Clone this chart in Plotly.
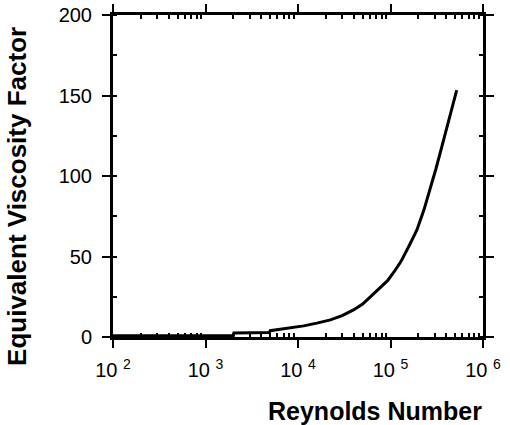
import plotly.graph_objects as go

# Data
reynolds = [100, 2000, 2030, 4900, 5000, 8000, 11500, 16000, 22400, 30000,
            39800, 50000, 60300, 75000, 93000, 110000, 130000, 160000,
            193000, 230000, 268000, 310000, 359000, 430000, 520000]
viscosity_factor = [0.8, 0.8, 2.5, 2.8, 3.9, 5.4, 6.9, 8.6, 10.6, 13.3,
                    16.8, 20.5, 25.0, 30.0, 35.0, 40.7, 47.0, 57.0,
                    66.5, 79.0, 91.3, 104.5, 118.2, 135.0, 153.4]

decades = [2, 3, 4, 5, 6]
x_tick_text = ["10 <sup>2</sup>", "10 <sup>3</sup>", "10 <sup>4</sup>",
               "10 <sup>5</sup>", "10 <sup>6</sup>"]
y_tick_vals = [0, 50, 100, 150, 200]

x_title = "Reynolds Number"
y_title = "Equivalent Viscosity Factor"

x_tick_vals = [10 ** d for d in decades]
x_minor_vals = [m * 10 ** d for d in decades[:-1] for m in range(2, 10)]

FONT = "Liberation Sans, Arial, sans-serif"

fig = go.Figure()
fig.add_trace(go.Scatter(
    x=reynolds, y=viscosity_factor, mode="lines",
    line=dict(color="black", width=3), showlegend=False,
))

fig.update_layout(
    width=510, height=425,
    margin=dict(l=113, r=27, t=15, b=88, autoexpand=False),
    paper_bgcolor="white", plot_bgcolor="white",
    font=dict(family=FONT, color="black", size=20),
)

fig.update_xaxes(
    type="log", range=[2, 6], automargin=False,
    tickmode="array", tickvals=x_tick_vals, ticktext=x_tick_text,
    ticks="outside", ticklen=8, tickwidth=2, tickcolor="black",
    ticklabelstandoff=5,
    minor=dict(tickmode="array", tickvals=x_minor_vals, ticks="inside",
               ticklen=4, tickwidth=1.5, tickcolor="black", showgrid=False),
    showline=True, linecolor="black", linewidth=3, mirror="ticks",
    showgrid=False, zeroline=False,
    tickfont=dict(size=20, family=FONT),
)
fig.update_yaxes(
    range=[0, 200], automargin=False,
    tickmode="array", tickvals=y_tick_vals,
    ticks="outside", ticklen=8, tickwidth=2, tickcolor="black",
    ticklabelstandoff=6,
    minor=dict(ticks="inside", ticklen=4, tickwidth=1.5, tickcolor="black",
               tickmode="linear", tick0=0, dtick=25, showgrid=False),
    showline=True, linecolor="black", linewidth=3, mirror="ticks",
    showgrid=False, zeroline=False,
    tickfont=dict(size=20, family=FONT),
)

fig.add_annotation(
    text="<b>" + y_title + "</b>", xref="paper", yref="paper",
    x=0, y=0.435, xanchor="center", yanchor="middle", xshift=-96,
    textangle=-90, showarrow=False, font=dict(size=26, family=FONT, color="black"),
)
fig.add_annotation(
    text="<b>" + x_title + "</b>", xref="paper", yref="paper",
    x=0.708, y=0, xanchor="center", yanchor="middle", yshift=-74,
    showarrow=False, font=dict(size=25, family=FONT, color="black"),
)

fig.write_html("out.html", config={"displayModeBar": False},
               post_script="document.body.style.margin='0';document.body.style.overflow='hidden';")
